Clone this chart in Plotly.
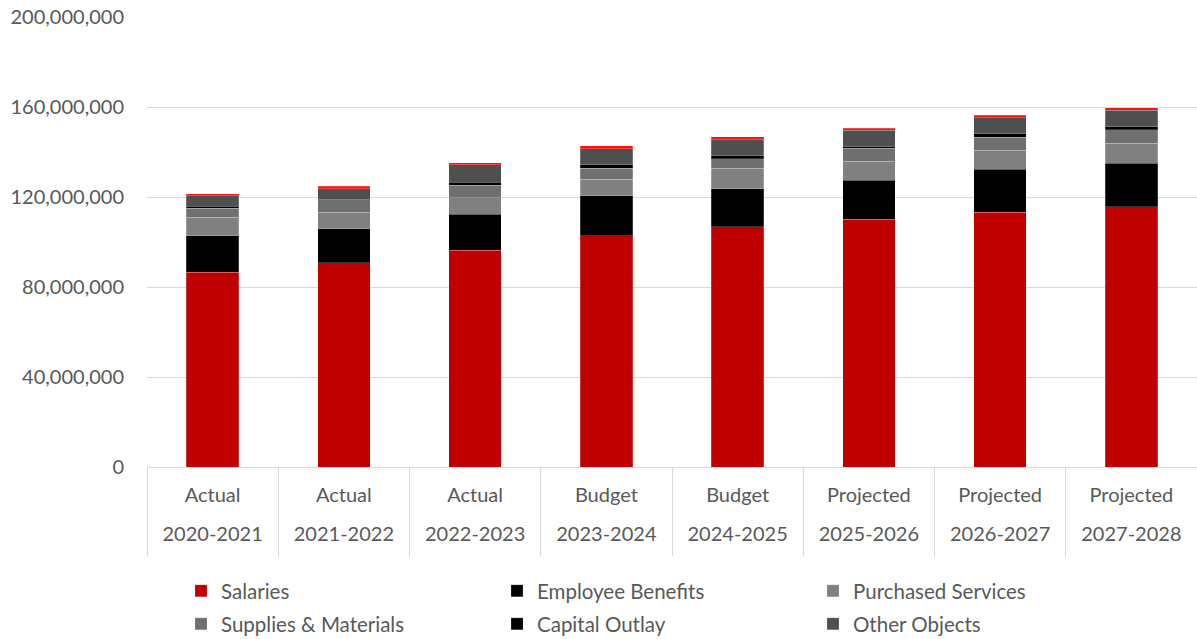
import plotly.graph_objects as go

# Fiscal years and their status
years = ["2020-2021", "2021-2022", "2022-2023", "2023-2024",
         "2024-2025", "2025-2026", "2026-2027", "2027-2028"]
status = ["Actual", "Actual", "Actual", "Budget",
          "Budget", "Projected", "Projected", "Projected"]

# Expenditures by object (dollars)
salaries = [86_500_000, 90_700_000, 96_400_000, 102_700_000,
            106_800_000, 110_200_000, 113_300_000, 115_700_000]
employee_benefits = [16_300_000, 15_200_000, 15_900_000, 17_900_000,
                     16_800_000, 17_300_000, 19_100_000, 19_400_000]
purchased_services = [8_200_000, 7_300_000, 7_400_000, 7_400_000,
                      9_200_000, 8_400_000, 8_300_000, 8_900_000]
supplies_materials = [4_000_000, 5_500_000, 5_600_000, 4_800_000,
                      4_100_000, 5_800_000, 5_800_000, 5_800_000]
capital_outlay = [1_000_000, 300_000, 1_300_000, 1_600_000,
                  1_500_000, 600_000, 1_600_000, 1_500_000]
other_objects = [4_600_000, 4_600_000, 7_700_000, 7_100_000,
                 7_100_000, 7_300_000, 7_100_000, 7_300_000]
other_uses = [750_000, 1_200_000, 900_000, 1_200_000,
              1_200_000, 900_000, 1_100_000, 1_000_000]

FONT = "Lato, 'Open Sans', sans-serif"
TEXT = "#595959"
GRID = "#d9d9d9"

series = [
    ("Salaries", salaries, "#C00000", "legend"),
    ("Employee Benefits", employee_benefits, "#000000", "legend"),
    ("Purchased Services", purchased_services, "#808080", "legend"),
    ("Supplies & Materials", supplies_materials, "#6f6f6f", "legend2"),
    ("Capital Outlay", capital_outlay, "#000000", "legend2"),
    ("Other Objects", other_objects, "#4f4f4f", "legend2"),
    ("Other Uses of Funds", other_uses, "#FF1010", None),
]

fig = go.Figure()
for name, vals, color, leg in series:
    fig.add_trace(go.Bar(
        x=years, y=vals, name=name,
        marker=dict(color=color, line=dict(color="rgba(255,255,255,0.35)", width=0.6)),
        showlegend=leg is not None,
        legend=leg if leg else "legend",
    ))

# Empty traces that carry the year-label axis and the divider axis
for ax in ("x2", "x3"):
    fig.add_trace(go.Bar(x=years, y=[0] * len(years), xaxis=ax,
                         showlegend=False, hoverinfo="skip",
                         marker=dict(color="rgba(0,0,0,0)")))

legend_common = dict(
    orientation="h", xref="container", yref="container",
    xanchor="left", yanchor="middle",
    entrywidth=271, entrywidthmode="pixels",
    font=dict(family=FONT, size=20.5, color=TEXT),
    bgcolor="rgba(0,0,0,0)", itemclick=False, itemdoubleclick=False,
    traceorder="normal",
)

fig.update_layout(
    width=1197, height=639,
    margin=dict(l=147, r=0, t=17, b=172),
    paper_bgcolor="white", plot_bgcolor="white",
    barmode="stack", bargap=0.6,
    font=dict(family=FONT, size=20, color=TEXT),
    legend=dict(x=181 / 1197, y=1 - 591 / 639, **legend_common),
    legend2=dict(x=181 / 1197, y=1 - 624 / 639, **legend_common),
    showlegend=True,
    xaxis=dict(
        type="category", categoryorder="array", categoryarray=years,
        tickmode="array", tickvals=years, ticktext=status,
        showline=True, linecolor=GRID, linewidth=1.3,
        ticks="", ticklabelstandoff=10,
        tickfont=dict(family=FONT, size=20, color=TEXT),
    ),
    xaxis2=dict(
        type="category", overlaying="x", matches="x", side="bottom",
        tickmode="array", tickvals=years, ticktext=years,
        showline=False, showgrid=False, ticks="", ticklabelstandoff=53,
        tickfont=dict(family=FONT, size=20, color=TEXT),
    ),
    xaxis3=dict(
        type="category", overlaying="x", matches="x", side="bottom",
        showline=False, showgrid=False, showticklabels=False,
        ticks="outside", tickson="boundaries", ticklen=88,
        tickcolor=GRID, tickwidth=1.3,
    ),
)

fig.update_yaxes(
    range=[0, 200_000_000], dtick=40_000_000, tickformat=",",
    showgrid=True, gridcolor=GRID, gridwidth=1.3,
    zeroline=False, showline=False, ticks="",
    ticklabelstandoff=22,
    tickfont=dict(family=FONT, size=20, color=TEXT),
)

fig.write_html("out.html")
